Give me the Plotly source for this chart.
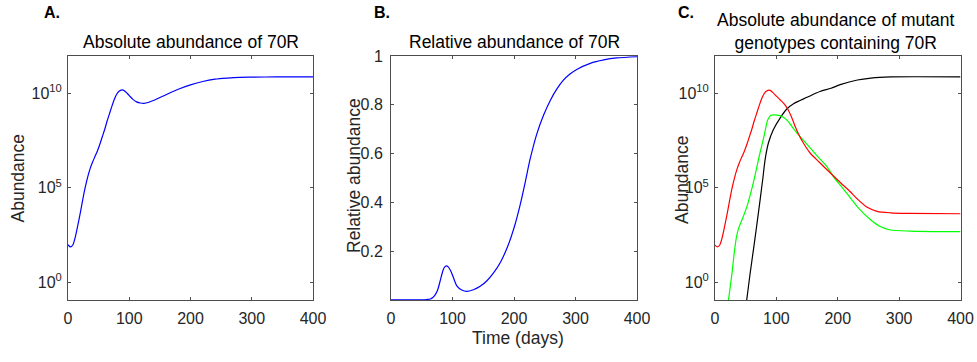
import numpy as np
import plotly.graph_objects as go

W, H = 977, 362

# ---------------- data ----------------
# Panel A: absolute abundance of 70R (log10 values)
t_A = [0, 4, 8, 12, 16, 20, 24, 28, 32, 36, 40, 44, 48, 52, 56, 60, 64, 68, 72, 76, 80, 84,
       89, 94, 100, 106, 112, 118, 124, 132, 145, 160, 180, 200, 220, 240, 260, 280, 300, 340, 400]
log_A = [1.98, 1.86, 1.98, 2.4, 3.0, 3.65, 4.35, 5.0, 5.55, 6.0, 6.35, 6.65, 6.95, 7.3, 7.7, 8.1,
         8.55, 8.95, 9.35, 9.72, 9.98, 10.12, 10.18, 10.09, 9.88, 9.68, 9.55, 9.49, 9.47, 9.53,
         9.7, 9.93, 10.22, 10.45, 10.63, 10.75, 10.81, 10.85, 10.86, 10.87, 10.87]

# Panel B: relative abundance of 70R
t_B = [0, 50, 58, 64, 68, 72, 76, 80, 84, 87, 90, 93, 97, 101, 107, 115, 123, 134, 145, 156,
       167, 178, 189, 200, 210, 218, 226, 237, 248, 259, 270, 280, 291, 302, 324, 346, 367, 400]
rel_B = [0.001, 0.001, 0.002, 0.004, 0.01, 0.022, 0.042, 0.079, 0.117, 0.135, 0.14, 0.136, 0.12,
         0.095, 0.058, 0.041, 0.035, 0.042, 0.056, 0.079, 0.112, 0.155, 0.215, 0.295, 0.39, 0.48,
         0.575, 0.68, 0.757, 0.818, 0.866, 0.9, 0.926, 0.945, 0.97, 0.984, 0.992, 0.997]

# Panel C: mutant genotypes containing 70R (log10 values)
t_red = [0, 4, 8, 12, 16, 20, 24, 28, 32, 36, 40, 44, 48, 52, 56, 60, 64, 68, 72, 76, 80, 84,
         89, 94, 100, 106, 112, 118, 124, 130, 136, 144, 155, 170, 188, 205, 220, 232, 248, 264,
         286, 318, 400]
log_red = [1.95, 1.86, 1.98, 2.4, 3.0, 3.65, 4.35, 5.0, 5.55, 6.0, 6.35, 6.65, 6.95, 7.3, 7.7, 8.1,
           8.55, 8.95, 9.35, 9.72, 9.98, 10.12, 10.17, 10.05, 9.85, 9.66, 9.47, 9.2, 8.8, 8.3,
           7.85, 7.37, 6.84, 6.35, 5.78, 5.25, 4.8, 4.4, 3.96, 3.75, 3.67, 3.64, 3.62]

t_green = [19, 22, 25, 28, 31, 35, 39, 43, 52, 62, 73, 80, 86, 91, 97, 104, 110, 116, 122, 133,
           150, 166, 182, 195, 210, 232, 254, 270, 286, 318, 400]
log_green = [-1.6, -0.94, -0.2, 0.55, 1.45, 2.4, 2.9, 3.22, 4.0, 5.2, 6.8, 7.75, 8.6, 8.84, 8.86,
             8.83, 8.76, 8.62, 8.39, 7.92, 7.3, 6.7, 6.13, 5.49, 4.9, 3.99, 3.29, 2.93, 2.76,
             2.7, 2.67]

t_black = [49, 51.7, 57, 62.6, 68, 73.5, 78, 81.6, 87, 95, 106, 117, 128, 150, 171, 189, 204,
           232, 254, 286, 400]
log_black = [-1.5, -0.94, 0.4, 1.71, 3.0, 4.36, 5.5, 6.48, 7.37, 8.07, 8.69, 9.17, 9.45, 9.79,
             10.1, 10.27, 10.46, 10.71, 10.81, 10.87, 10.87]

x_ticks = [0, 100, 200, 300, 400]
log_tickvals = [1, 1e5, 1e10]
log_ticktext = ["10<sup>0</sup>", "10<sup>5</sup>", "10<sup>10</sup>"]
rel_tickvals = [0.2, 0.4, 0.6, 0.8, 1]
rel_ticktext = ["0.2", "0.4", "0.6", "0.8", "1"]

titles = ["Absolute abundance of 70R", "Relative abundance of 70R",
          "Absolute abundance of mutant<br>genotypes containing 70R"]
panel_letters = ["A.", "B.", "C."]

# ---------------- layout geometry (pixels) ----------------
FONT = "Liberation Sans, Arial, Helvetica, sans-serif"
TXT = "#262626"
x_dom_px = [(68, 313), (391, 637), (715, 960.5)]
y_dom_px = (56, 300)


def fx(px):
    return px / W


def fy(py):
    return 1 - py / H


fig = go.Figure()
line_w = 1.2
smooth = 0.8

fig.add_trace(go.Scatter(x=t_A, y=np.power(10.0, log_A), mode="lines",
                         line=dict(color="#0000FF", width=line_w, shape="spline", smoothing=smooth),
                         xaxis="x", yaxis="y", showlegend=False))
fig.add_trace(go.Scatter(x=t_B, y=rel_B, mode="lines",
                         line=dict(color="#0000FF", width=line_w, shape="spline", smoothing=smooth),
                         xaxis="x2", yaxis="y2", showlegend=False))
for tt, ll, col in [(t_black, log_black, "#000000"),
                    (t_green, log_green, "#00FF00"),
                    (t_red, log_red, "#FF0000")]:
    fig.add_trace(go.Scatter(x=tt, y=np.power(10.0, ll), mode="lines",
                             line=dict(color=col, width=line_w, shape="spline", smoothing=smooth),
                             xaxis="x3", yaxis="y3", showlegend=False))

axis_common = dict(showgrid=False, zeroline=False, showline=True, linecolor="#4d4d4d",
                   linewidth=1, mirror="ticks", ticks="inside", ticklen=3, tickcolor="#4d4d4d",
                   tickfont=dict(family=FONT, size=16, color=TXT))

layout = dict(width=W, height=H, margin=dict(l=0, r=0, t=0, b=0),
              paper_bgcolor="white", plot_bgcolor="white",
              font=dict(family=FONT, color=TXT))

for i, (x0, x1) in enumerate(x_dom_px):
    sfx = "" if i == 0 else str(i + 1)
    layout["xaxis" + sfx] = dict(axis_common, domain=[fx(x0), fx(x1)], range=[0, 400],
                                 tickvals=x_ticks, anchor="y" + sfx, automargin=False,
                                 ticklabelstandoff=4)
    ydom = [fy(y_dom_px[1]), fy(y_dom_px[0])]
    if i == 1:
        layout["yaxis" + sfx] = dict(axis_common, domain=ydom, range=[0, 1],
                                     tickvals=rel_tickvals, ticktext=rel_ticktext,
                                     anchor="x" + sfx, automargin=False, ticklabelstandoff=4)
    else:
        layout["yaxis" + sfx] = dict(axis_common, domain=ydom, type="log", range=[-0.95, 11.98],
                                     tickvals=log_tickvals, ticktext=log_ticktext,
                                     anchor="x" + sfx, automargin=False, ticklabelstandoff=2)

fig.update_layout(**layout)

ann = []
title_pos = [(190.5, 42), (514, 42), (836, 31)]
for txt, (px, py) in zip(titles, title_pos):
    ann.append(dict(text=txt, x=fx(px), y=fy(py), xref="paper", yref="paper",
                    xanchor="center", yanchor="middle", showarrow=False,
                    font=dict(family=FONT, size=17.5, color="#000000")))
letter_pos = [(52, 13), (382, 13), (686, 13)]
for txt, (px, py) in zip(panel_letters, letter_pos):
    ann.append(dict(text="<b>" + txt + "</b>", x=fx(px), y=fy(py), xref="paper", yref="paper",
                    xanchor="center", yanchor="middle", showarrow=False,
                    font=dict(family=FONT, size=16, color="#000000")))
ylab = [("Abundance", 17.5, 178), ("Relative abundance", 354, 176), ("Abundance", 682, 180)]
for txt, px, py in ylab:
    ann.append(dict(text=txt, x=fx(px), y=fy(py), xref="paper", yref="paper", textangle=-90,
                    xanchor="center", yanchor="middle", showarrow=False,
                    font=dict(family=FONT, size=17.5, color=TXT)))
ann.append(dict(text="Time (days)", x=fx(518), y=fy(338), xref="paper", yref="paper",
                xanchor="center", yanchor="middle", showarrow=False,
                font=dict(family=FONT, size=17.5, color=TXT)))
fig.update_layout(annotations=ann)

fig.write_html("out.html")
